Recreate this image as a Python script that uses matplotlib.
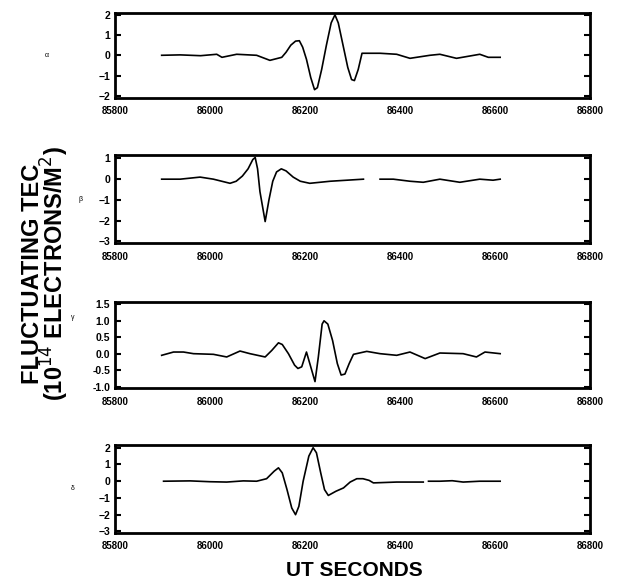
import matplotlib
matplotlib.use("Agg")
import matplotlib.pyplot as plt

plt.rcParams['font.family'] = ['Liberation Sans', 'DejaVu Sans']

# UT seconds / fluctuating TEC
x_a = [85898, 85937, 85980, 86014, 86025, 86056, 86098, 86126, 86151, 86160,
       86170, 86180, 86188, 86195, 86203, 86212, 86220, 86226, 86235, 86245,
       86255, 86263, 86270, 86280, 86290, 86298, 86304, 86312, 86320, 86358,
       86393, 86421, 86463, 86484, 86519, 86568, 86586, 86611]
y_a = [0.0, 0.02, -0.02, 0.05, -0.1, 0.05, 0.0, -0.25, -0.1, 0.15,
       0.5, 0.7, 0.72, 0.4, -0.2, -1.1, -1.7, -1.6, -0.7, 0.5,
       1.6, 2.0, 1.6, 0.5, -0.6, -1.2, -1.25, -0.7, 0.1, 0.1,
       0.05, -0.15, 0.0, 0.05, -0.15, 0.05, -0.1, -0.1]

x_b = [85898, 85937, 85979, 86007, 86042, 86055, 86068, 86080, 86090, 86095,
       86100, 86105, 86116, 86124, 86132, 86140, 86150, 86160, 86175, 86190,
       86210, 86253, 86288, 86323, None, 86358, 86386, 86421, 86449, 86484,
       86526, 86568, 86596, 86611]
y_b = [0.0, 0.0, 0.1, 0.0, -0.2, -0.1, 0.15, 0.5, 0.95, 1.05,
       0.5, -0.6, -2.05, -1.0, -0.1, 0.35, 0.5, 0.4, 0.1, -0.1,
       -0.2, -0.1, -0.05, 0.0, None, 0.0, 0.0, -0.1, -0.15, 0.0,
       -0.15, 0.0, -0.05, 0.0]

x_c = [85898, 85923, 85944, 85965, 86007, 86035, 86063, 86084, 86116, 86130,
       86144, 86152, 86165, 86178, 86185, 86193, 86203, 86212, 86221, 86228,
       86236, 86240, 86248, 86258, 86268, 86276, 86284, 86293, 86302, 86330,
       86358, 86393, 86421, 86453, 86484, 86533, 86561, 86579, 86611]
y_c = [-0.05, 0.05, 0.05, 0.0, -0.02, -0.1, 0.08, 0.0, -0.1, 0.1,
       0.33, 0.28, 0.0, -0.35, -0.45, -0.4, 0.05, -0.4, -0.85, -0.1,
       0.9, 1.0, 0.9, 0.4, -0.3, -0.65, -0.62, -0.3, -0.02, 0.07,
       0.0, -0.05, 0.05, -0.15, 0.02, 0.0, -0.1, 0.05, 0.0]

x_d = [85902, 85958, 86000, 86035, 86070, 86098, 86119, 86135, 86144, 86152,
       86162, 86172, 86180, 86187, 86196, 86208, 86217, 86224, 86233, 86241,
       86249, 86265, 86281, 86295, 86309, 86322, 86335, 86344, 86393, 86449,
       None, 86460, 86484, 86510, 86533, 86568, 86611]
y_d = [0.0, 0.02, -0.03, -0.05, 0.02, 0.0, 0.15, 0.6, 0.8, 0.5,
       -0.5, -1.6, -2.0, -1.5, 0.0, 1.5, 2.0, 1.7, 0.5, -0.5,
       -0.85, -0.6, -0.4, -0.05, 0.15, 0.15, 0.05, -0.1, -0.05, -0.05,
       None, 0.0, 0.0, 0.03, -0.05, 0.0, 0.0]

x_ticks = [85800, 86000, 86200, 86400, 86600, 86800]
panel_names = ['α', 'β', 'γ', 'δ']
y_ticks = [[-2, -1, 0, 1, 2], [-3, -2, -1, 0, 1],
           [-1.0, -0.5, 0.0, 0.5, 1.0, 1.5], [-3, -2, -1, 0, 1, 2]]
y_limits = [(-2.1, 2.1), (-3.1, 1.15), (-1.05, 1.57), (-3.1, 2.15)]
series = [(x_a, y_a), (x_b, y_b), (x_c, y_c), (x_d, y_d)]

fig = plt.figure(figsize=(6.19, 5.82), dpi=100)
bottoms = [0.832, 0.582, 0.333, 0.084]
heights = [0.146, 0.151, 0.148, 0.151]
name_pos = [(0.076, 0.905), (0.13, 0.657), (0.118, 0.455), (0.118, 0.16)]

for i, (xs, ys) in enumerate(series):
    ax = fig.add_axes([0.186, bottoms[i], 0.767, heights[i]])
    xv = [float('nan') if v is None else v for v in xs]
    yv = [float('nan') if v is None else v for v in ys]
    ax.plot(xv, yv, color='black', lw=1.2)
    ax.set_xlim(85800, 86800)
    ax.set_ylim(*y_limits[i])
    ax.set_xticks(x_ticks)
    ax.set_yticks(y_ticks[i])
    if i == 2:
        ax.set_yticklabels([f"{t:.1f}" for t in y_ticks[i]])
    ax.tick_params(axis='x', length=0, labelsize=7, pad=6)
    ax.tick_params(axis='y', direction='in', length=4, width=1.5,
                   labelsize=7.5, right=True)
    for lab in ax.get_xticklabels() + ax.get_yticklabels():
        lab.set_fontweight('bold')
    for sp in ax.spines.values():
        sp.set_linewidth(2)
    fig.text(name_pos[i][0], name_pos[i][1], panel_names[i], fontsize=5,
             ha='center', va='center')

fig.text(0.074, 0.53, 'FLUCTUATING TEC\n(10$^{14}$ ELECTRONS/M$^2$)',
         rotation=90, ha='center', va='center', fontsize=17,
         fontweight='bold', linespacing=0.78)
fig.text(0.573, 0.003, 'UT SECONDS', ha='center', va='bottom',
         fontsize=15, fontweight='bold')

fig.savefig('out.png', dpi=100)
